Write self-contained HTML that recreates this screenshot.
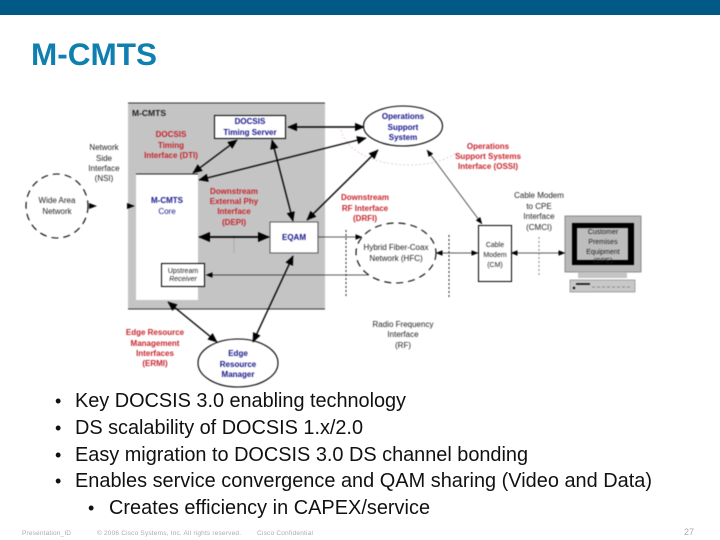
<!DOCTYPE html>
<html><head><meta charset="utf-8"><style>
html,body{margin:0;padding:0;background:#fff}
svg{display:block;font-family:"Liberation Sans",sans-serif}
.d{filter:blur(.45px)}
.r{fill:#c8242c;font-weight:bold;font-size:8px;text-anchor:middle}
.b{fill:#16168c;font-weight:bold;font-size:8px;text-anchor:middle}
.k{fill:#222;font-size:8px;text-anchor:middle}
.t{fill:#111;font-size:19.900px}
.f{fill:#aaa;font-size:6.500px}
</style></head><body>
<svg width="720" height="540" viewBox="0 0 720 540" xmlns="http://www.w3.org/2000/svg">
<defs>
<marker id="a" markerWidth="10" markerHeight="8" refX="9.500" refY="4" orient="auto-start-reverse" markerUnits="strokeWidth"><path d="M0 0L10 4L0 8Z" fill="#000"/></marker>
<marker id="s" markerWidth="7" markerHeight="6" refX="6.500" refY="3" orient="auto-start-reverse" markerUnits="strokeWidth"><path d="M0 0L7 3L0 6Z" fill="#000"/></marker>
</defs>
<rect width="720" height="15" fill="#005a85"/>
<text x="31" y="65" font-size="31.500" font-weight="bold" fill="#0f7fb0">M-CMTS</text>
<g class="d">
<rect x="128" y="103" width="197" height="206" fill="#c4c4c4"/>
<path d="M128 103H325M128 309H325" stroke="#333" stroke-width="1" fill="none"/>
<path d="M234 235V253" stroke="#aaa" stroke-width="1"/>
<path d="M341 130C346 152 376 165 410 165C430 165 446 160 456 153" fill="none" stroke="#e3b8b8" stroke-width=".7" stroke-dasharray="2 2"/>
<rect x="136" y="174" width="62" height="126" fill="#fff"/>
<path d="M136 174H198" stroke="#222"/>
<rect x="214.500" y="115.500" width="71" height="23" fill="#fff" stroke="#000"/>
<rect x="270" y="222" width="48" height="31" fill="#fff"/>
<path d="M270 222H318V253H270Z" fill="none" stroke="#333" stroke-width=".8"/>
<rect x="161.500" y="263.500" width="43" height="23" fill="#fff" stroke="#000"/>
<ellipse cx="403" cy="126" rx="39.500" ry="20" fill="#fff" stroke="#000" stroke-width="1.100"/>
<ellipse cx="238" cy="363" rx="40" ry="24" fill="#fff" stroke="#000" stroke-width="1.100"/>
<ellipse cx="57" cy="206" rx="31" ry="32" fill="#fff" stroke="#000" stroke-width="1.100" stroke-dasharray="7 5"/>
<ellipse cx="396" cy="253" rx="40" ry="30" fill="#fff" stroke="#000" stroke-width="1.100" stroke-dasharray="7 5"/>
<rect x="478.500" y="225.500" width="33" height="56" fill="#fff" stroke="#000"/>
<g fill="none" stroke="#000" stroke-width="1.400">
<path d="M288 127H364" marker-start="url(#s)" marker-end="url(#s)"/>
<path d="M199 180L366 138" marker-start="url(#s)" marker-end="url(#s)"/>
<path d="M307 220L378 150" marker-start="url(#s)" marker-end="url(#s)"/>
<path d="M193 173L237 140" marker-start="url(#s)" marker-end="url(#s)"/>
<path d="M272 140L293 221" marker-start="url(#s)" marker-end="url(#s)"/>
<path d="M199 237H269" stroke-width="1.700" marker-start="url(#s)" marker-end="url(#s)"/>
<path d="M168 302L217 342" marker-start="url(#s)" marker-end="url(#s)"/>
<path d="M293 256L253 342" marker-start="url(#s)" marker-end="url(#s)"/>
</g>
<g fill="none" stroke="#222" stroke-width=".7">
<path d="M318 237H362" marker-end="url(#a)"/>
<path d="M369 275H206" marker-end="url(#a)"/>
<path d="M436 253H478" marker-start="url(#a)" marker-end="url(#a)"/>
<path d="M511 253H565" marker-start="url(#a)" marker-end="url(#a)"/>
<path d="M427 150L482 224" marker-start="url(#a)" marker-end="url(#a)"/>
</g>
<path d="M97 206L89 203V209ZM127 203L135 206L127 209Z" fill="#000"/>
<g fill="none" stroke="#222" stroke-width="1" stroke-dasharray="2 2">
<path d="M346 230V297M449 235V297"/>
<path d="M539 237V275" stroke="#888"/>
</g>
<rect x="565" y="216" width="76" height="56" fill="#b9b9b9" stroke="#555" stroke-width=".6"/>
<rect x="572" y="223" width="62" height="42" fill="#000"/>
<rect x="577" y="228" width="51" height="32" fill="#bdbdbd"/>
<rect x="578" y="272" width="49" height="6" fill="#c4c4c4"/>
<rect x="570" y="280" width="65" height="12" fill="#c8c8c8" stroke="#666" stroke-width=".5"/>
<path d="M576 284H590" stroke="#000" stroke-width="1.500"/>
<path d="M592 287H632" stroke="#777" stroke-width=".7" stroke-dasharray="3 2"/>
<circle cx="574" cy="288" r="1.200" fill="#000"/>

<text x="132" y="116" font-size="8.500" font-weight="bold" fill="#222">M-CMTS</text>
<g class="r">
<text x="171" y="137">DOCSIS</text><text x="171" y="148">Timing</text><text x="171" y="158">Interface (DTI)</text>
<text x="234" y="194">Downstream</text><text x="234" y="204">External Phy</text><text x="234" y="214">Interface</text><text x="234" y="225">(DEPI)</text>
<text x="488" y="149">Operations</text><text x="488" y="159">Support Systems</text><text x="488" y="169">Interface (OSSI)</text>
<text x="365" y="200">Downstream</text><text x="365" y="211">RF Interface</text><text x="365" y="221">(DRFI)</text>
<text x="155" y="335">Edge Resource</text><text x="155" y="346">Management</text><text x="155" y="356">Interfaces</text><text x="155" y="366">(ERMI)</text>
</g>
<g class="b">
<text x="250" y="124">DOCSIS</text><text x="250" y="135">Timing Server</text>
<text x="167" y="203">M-CMTS</text><text x="167" y="214" font-weight="normal">Core</text>
<text x="294" y="240">EQAM</text>
<text x="403" y="119">Operations</text><text x="403" y="130">Support</text><text x="403" y="140">System</text>
<text x="238" y="356">Edge</text><text x="238" y="367">Resource</text><text x="238" y="377">Manager</text>
</g>
<g class="k">
<text x="104" y="150">Network</text><text x="104" y="161">Side</text><text x="104" y="171">Interface</text><text x="104" y="181">(NSI)</text>
<text x="57" y="203">Wide Area</text><text x="57" y="214">Network</text>
<text x="396" y="250">Hybrid Fiber-Coax</text><text x="396" y="261">Network (HFC)</text>
<text x="539" y="198">Cable Modem</text><text x="539" y="209">to CPE</text><text x="539" y="219">Interface</text><text x="539" y="230">(CMCI)</text>
<text x="495" y="247" font-size="7">Cable</text><text x="495" y="257" font-size="7">Modem</text><text x="495" y="267" font-size="7">(CM)</text>
<text x="603" y="234" font-size="7">Customer</text><text x="603" y="244" font-size="7">Premises</text><text x="603" y="254" font-size="7">Equipment</text><text x="603" y="263" font-size="7" font-weight="normal">(CPE)</text>
<text x="183" y="273" font-size="7">Upstream</text><text x="183" y="281" font-size="7" font-style="italic">Receiver</text>
<text x="403" y="327">Radio Frequency</text><text x="403" y="337">Interface</text><text x="403" y="348">(RF)</text>
</g>
</g>
<g class="t">
<text x="55" y="407" font-size="18">•</text><text x="75" y="407" textLength="331">Key DOCSIS 3.0 enabling technology</text>
<text x="55" y="434" font-size="18">•</text><text x="75" y="434" textLength="288">DS scalability of DOCSIS 1.x/2.0</text>
<text x="55" y="461" font-size="18">•</text><text x="75" y="461" textLength="453">Easy migration to DOCSIS 3.0 DS channel bonding</text>
<text x="55" y="487" font-size="18">•</text><text x="75" y="487" textLength="577">Enables service convergence and QAM sharing (Video and Data)</text>
<text x="88" y="514" font-size="18">•</text><text x="109" y="514" textLength="321">Creates efficiency in CAPEX/service</text>
</g>
<g class="f">
<text x="22" y="535" textLength="49">Presentation_ID</text>
<text x="97" y="535" textLength="144">© 2006 Cisco Systems, Inc. All rights reserved.</text>
<text x="257" y="535" textLength="56">Cisco Confidential</text>
<text x="684" y="535" font-size="9">27</text>
</g>
</svg>
</body></html>
